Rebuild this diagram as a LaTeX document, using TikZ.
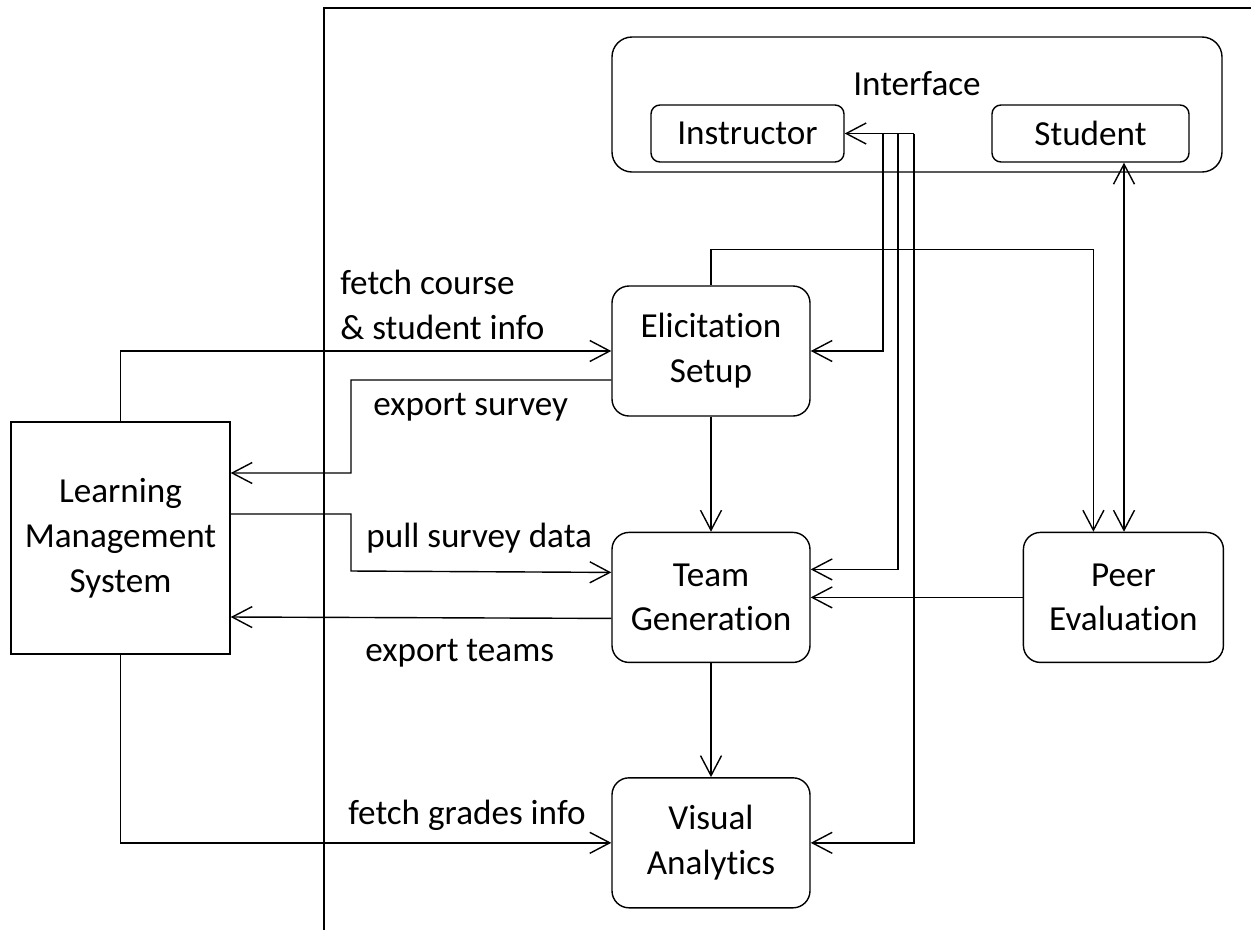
\documentclass[tikz,border=0pt]{standalone}
\usepackage{fontspec}
\setmainfont{Carlito}[Ligatures=CommonOff]
\usetikzlibrary{arrows.meta}
\usetikzlibrary{positioning}
\tikzset{
    diagram font/.style={
        font=\fontsize{20}{25.5}\selectfont,
    },
    module/.style={
        draw,
        line width=0.8pt,
        rounded corners=3.4mm,
        align=center,
        minimum width=39.6mm,
        minimum height=26mm,
        inner sep=0,
        diagram font,
    },
    lms box/.style={
        draw,
        line width=0.8pt,
        align=center,
        minimum width=43.8mm,
        minimum height=46.4mm,
        inner sep=0,
        diagram font,
    },
    ui box/.style={
        draw,
        line width=0.8pt,
        rounded corners=1.8mm,
        minimum height=11.4mm,
        inner sep=0,
        diagram font,
    },
    flow/.style={
        line width=0.8pt,
        -{Straight Barb[length=4mm,width=4.2mm]},
    },
    both flow/.style={
        line width=0.8pt,
        {Straight Barb[length=4mm,width=4.2mm]}-{Straight Barb[length=4mm,width=4.2mm]},
    },
    flow label/.style={
        anchor=base west,
        align=left,
        inner sep=0,
        diagram font,
    },
}

\begin{document}
\begin{tikzpicture}[x=0.2mm,y=-0.2mm]

    \useasboundingbox (0,0) rectangle (1251,930);

    % system frame
    \draw[line width=0.8pt] (324,930) -- (324,8) -- (1251,8);

    % interface
    \node[draw, line width=0.8pt, rounded corners=4mm, minimum width=122mm, minimum height=27mm] (iface) at (917,104.5) {};
    \node[diagram font] (ifacetitle) at (917,84) {Interface};
    \node[ui box, minimum width=38.6mm] (instr) at (747.5,133.5) {Instructor};
    \node[ui box, minimum width=39.4mm] (stud) at (1090.5,133.5) {Student};

    % modules
    \node[module] (elic) at (711,351) {Elicitation\\Setup};
    \node[module, below=23mm of elic] (team) {Team\\Generation};
    \node[module, below=22.8mm of team] (visual) {Visual\\Analytics};
    \node[module, minimum width=40mm, right=42.4mm of team] (peer) {Peer\\Evaluation};
    \node[lms box] (lms) at (120.5,538) {Learning\\Management\\System};

    % instructor links
    \coordinate (bus1) at (883,133.5);
    \coordinate (bus2) at (898,133.5);
    \coordinate (bus3) at (914,133.5);
    \draw[flow] (bus3) -- (instr.east);
    \draw[flow] (bus1) |- (elic.east);
    \draw[flow] (bus2) |- ([yshift=5.6mm]team.east);
    \draw[flow] (bus3) |- (visual.east);

    % student and peer evaluation
    \draw[flow] (elic.north) -- ++(0,-36) -| ([xshift=-6mm]peer.north);
    \draw[both flow] ([xshift=6.7mm]stud.south) -- ([xshift=6.7mm]stud.south |- peer.north);
    \draw[flow] (peer.west) -- (team.east);

    % pipeline
    \draw[flow] (elic.south) -- (team.north);
    \draw[flow] (team.south) -- (visual.north);

    % learning management system
    \draw[flow] (lms.north) |- (elic.west);
    \draw[flow] ([yshift=-5.8mm]elic.west) -| (351,473) -- ([yshift=13mm]lms.east);
    \draw[flow] ([yshift=4.8mm]lms.east) -| (351,571) -- ([yshift=5mm]team.west);
    \draw[flow] ([yshift=-4.2mm]team.west) -- ([yshift=-15.8mm]lms.east);
    \draw[flow] (lms.south) |- (visual.west);

    % labels
    \node[flow label] (fetchcourse) at (340,339) {fetch course\\\& student info};
    \node[flow label] (exportsurvey) at (373,415) {export survey};
    \node[flow label] (pullsurvey) at (366,547) {pull survey data};
    \node[flow label] (exportteams) at (365,661) {export teams};
    \node[flow label] (fetchgrades) at (348,824) {fetch grades info};

\end{tikzpicture}
\end{document}
